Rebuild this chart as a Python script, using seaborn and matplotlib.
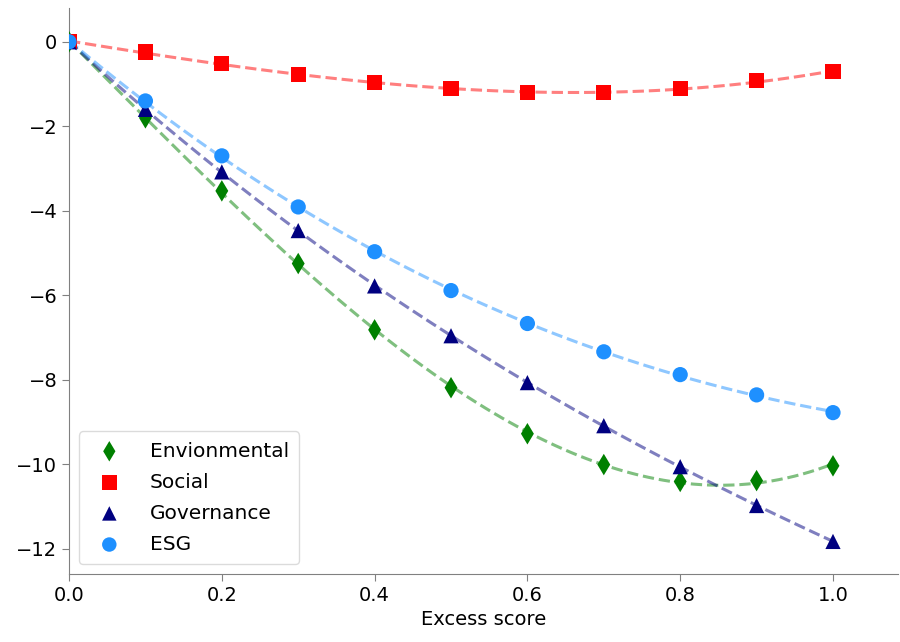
import numpy as np
import pandas as pd
import matplotlib
matplotlib.use('Agg')
import matplotlib.pyplot as plt
import seaborn as sns

excess = [0.0, 0.1, 0.2, 0.3, 0.4, 0.5, 0.6, 0.7, 0.8, 0.9, 1.0]
environmental = [0.0, -1.80, -3.53, -5.25, -6.82, -8.19, -9.28, -10.01, -10.41, -10.39, -10.04]
social = [0.0, -0.24, -0.52, -0.78, -0.97, -1.11, -1.20, -1.20, -1.11, -0.92, -0.71]
governance = [0.0, -1.60, -3.08, -4.47, -5.78, -6.96, -8.07, -9.09, -10.06, -10.98, -11.83]
esg = [0.0, -1.40, -2.70, -3.91, -4.97, -5.89, -6.67, -7.34, -7.88, -8.36, -8.78]

series = [
    ('Envionmental', environmental, 'green', 'd'),
    ('Social', social, 'red', 's'),
    ('Governance', governance, 'navy', '^'),
    ('ESG', esg, 'dodgerblue', 'o'),
]

sns.set_style('white')
plt.rcParams['font.family'] = ['DejaVu Sans']
plt.rcParams['text.color'] = 'black'
plt.rcParams['axes.labelcolor'] = 'black'

fig = plt.figure(figsize=(9, 6.42), dpi=100)
ax = fig.add_axes([0.0767, 0.106, 0.921, 0.8815])

for name, vals, color, marker in series:
    df = pd.DataFrame({'x': excess, 'y': vals})
    sns.regplot(data=df, x='x', y='y', order=3, ci=None, scatter=False, ax=ax,
                line_kws={'color': color, 'alpha': 0.5, 'linestyle': '--', 'linewidth': 2.2})
    sns.scatterplot(data=df, x='x', y='y', color=color, marker=marker, s=120,
                    edgecolor='none', label=name, ax=ax, zorder=3)

ax.set_xlim(0, 1.085)
ax.set_ylim(-12.6, 0.8)
ax.set_xticks([0.0, 0.2, 0.4, 0.6, 0.8, 1.0])
ax.set_yticks([0, -2, -4, -6, -8, -10, -12])
ax.set_xlabel('Excess score', fontsize=14)
ax.set_ylabel('')
ax.tick_params(axis='both', labelsize=14, labelcolor='black', length=5, color='gray',
               bottom=True, left=True)
sns.despine(ax=ax)
for sp in ['left', 'bottom']:
    ax.spines[sp].set_color('gray')

ax.legend(loc='lower left', fontsize=14.5, frameon=True, edgecolor='lightgray',
          borderpad=0.5, handletextpad=1.0, labelspacing=0.6, markerscale=0.95)

fig.savefig('out.png', dpi=100)
